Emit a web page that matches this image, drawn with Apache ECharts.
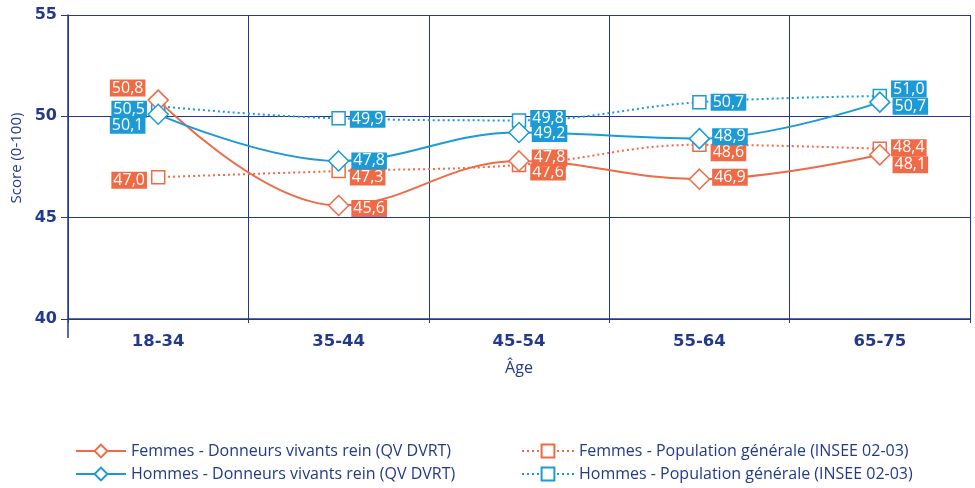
<!DOCTYPE html>
<html>
<head>
<meta charset="utf-8">
<script src="https://cdn.jsdelivr.net/npm/echarts@6/dist/echarts.min.js"></script>
<style>
  html, body { margin: 0; padding: 0; background: #fff; }
  #chart { width: 975px; height: 488px; }
</style>
</head>
<body>
<div id="chart"></div>
<script>
// Age groups on the x axis
const ageGroups = ['18-34', '35-44', '45-54', '55-64', '65-75'];

// Quality of life scores (0-100)
const femmesDonneurs = [50.8, 45.6, 47.8, 46.9, 48.1];
const hommesDonneurs = [50.1, 47.8, 49.2, 48.9, 50.7];
const femmesPopulation = [47.0, 47.3, 47.6, 48.6, 48.4];
const hommesPopulation = [50.5, 49.9, 49.8, 50.7, 51.0];

// Y axis ticks
const yTicks = [40, 45, 50, 55];

const NAVY = '#22398c';
const ORANGE = '#ef6a45';
const BLUE = '#1b9ad6';
const FONT = '"Open Sans", Lato, sans-serif';
const TICK_FONT = '"DejaVu Sans", sans-serif';

// vertical nudges (px) that keep the value boxes from overlapping
const nudgeFD = [-12, 3, -3, -2, 10];
const nudgeHD = [11, 0, 1, -2, 4];
const nudgeFP = [3, 6, 7, 8, -1];
const nudgeHP = [3, 1, -2, 0, -7];

const fmt = v => v.toFixed(1).replace('.', ',');

function buildData(values, nudge, dist) {
  return values.map((v, i) => ({
    value: v,
    label: {
      position: i === 0 ? 'left' : 'right',
      distance: dist,
      offset: [0, nudge[i]]
    }
  }));
}

function makeSeries(name, values, nudge, color, symbol, size, dotted, dist) {
  return {
    name: name,
    type: 'line',
    data: buildData(values, nudge, dist),
    smooth: 0.4,
    symbol: symbol,
    symbolSize: size,
    showAllSymbol: true,
    lineStyle: { color: color, width: 2, type: dotted ? [2, 3] : 'solid' },
    itemStyle: { color: '#fff', borderColor: color, borderWidth: 1.5 },
    label: {
      show: true,
      formatter: p => fmt(p.value),
      color: '#fff',
      backgroundColor: color,
      fontFamily: FONT,
      fontSize: 16,
      lineHeight: 17,
      padding: [0, 2, 0, 2]
    },
    emphasis: { disabled: true },
    z: dotted ? 2 : 3
  };
}

const chart = echarts.init(document.getElementById('chart'), null, { renderer: 'canvas' });

const legendText = { color: NAVY, fontFamily: FONT, fontSize: 16 };

chart.setOption({
  animation: false,
  backgroundColor: '#fff',
  grid: { left: 68, right: 5, top: 15, bottom: 169 },
  xAxis: {
    type: 'category',
    data: ageGroups,
    boundaryGap: true,
    name: 'Âge',
    nameLocation: 'middle',
    nameGap: 41,
    nameTextStyle: { color: NAVY, fontFamily: FONT, fontSize: 16 },
    axisLine: { show: true, lineStyle: { color: NAVY, width: 1.5 } },
    axisTick: { show: true, length: 4, lineStyle: { color: NAVY } },
    axisLabel: { color: NAVY, fontFamily: TICK_FONT, fontSize: 16.5, fontWeight: 'bold', margin: 14 },
    splitLine: { show: true, lineStyle: { color: NAVY, width: 1 } }
  },
  yAxis: {
    type: 'value',
    min: yTicks[0],
    max: yTicks[yTicks.length - 1],
    interval: 5,
    name: 'Score (0-100)',
    nameLocation: 'middle',
    nameGap: 44,
    nameTextStyle: { color: NAVY, fontFamily: FONT, fontSize: 15, padding: [0, 0, 0, 18] },
    axisLine: { show: true, lineStyle: { color: NAVY, width: 1.5 } },
    axisTick: { show: true, length: 7, lineStyle: { color: NAVY } },
    axisLabel: { color: NAVY, fontFamily: TICK_FONT, fontSize: 16, fontWeight: 'bold', margin: 11 },
    splitLine: { show: true, lineStyle: { color: NAVY, width: 1 } }
  },
  legend: [
    {
      orient: 'vertical', left: 70, top: 438, itemGap: 7,
      itemWidth: 50, itemHeight: 16,
      textStyle: legendText,
      data: ['Femmes - Donneurs vivants rein (QV DVRT)', 'Hommes - Donneurs vivants rein (QV DVRT)']
    },
    {
      orient: 'vertical', left: 516, top: 438, itemGap: 7,
      itemWidth: 52, itemHeight: 16,
      textStyle: legendText,
      data: ['Femmes - Population générale (INSEE 02-03)', 'Hommes - Population générale (INSEE 02-03)']
    }
  ],
  series: [
    makeSeries('Femmes - Population générale (INSEE 02-03)', femmesPopulation, nudgeFP, ORANGE, 'rect', 13, true, 4),
    makeSeries('Hommes - Population générale (INSEE 02-03)', hommesPopulation, nudgeHP, BLUE, 'rect', 13, true, 4),
    makeSeries('Femmes - Donneurs vivants rein (QV DVRT)', femmesDonneurs, nudgeFD, ORANGE, 'diamond', 20, false, 2),
    makeSeries('Hommes - Donneurs vivants rein (QV DVRT)', hommesDonneurs, nudgeHD, BLUE, 'diamond', 20, false, 2)
  ]
});

// left axis line continues a little below the x axis
const origin = chart.convertToPixel({ gridIndex: 0 }, [0, yTicks[0]]);
const step = chart.convertToPixel({ xAxisIndex: 0 }, 1) - chart.convertToPixel({ xAxisIndex: 0 }, 0);
const leftX = chart.convertToPixel({ xAxisIndex: 0 }, 0) - step / 2;
chart.setOption({
  graphic: [{
    type: 'line',
    shape: { x1: leftX, y1: origin[1], x2: leftX, y2: origin[1] + 19 },
    style: { stroke: NAVY, lineWidth: 1.5 },
    silent: true
  }]
});
</script>
</body>
</html>
